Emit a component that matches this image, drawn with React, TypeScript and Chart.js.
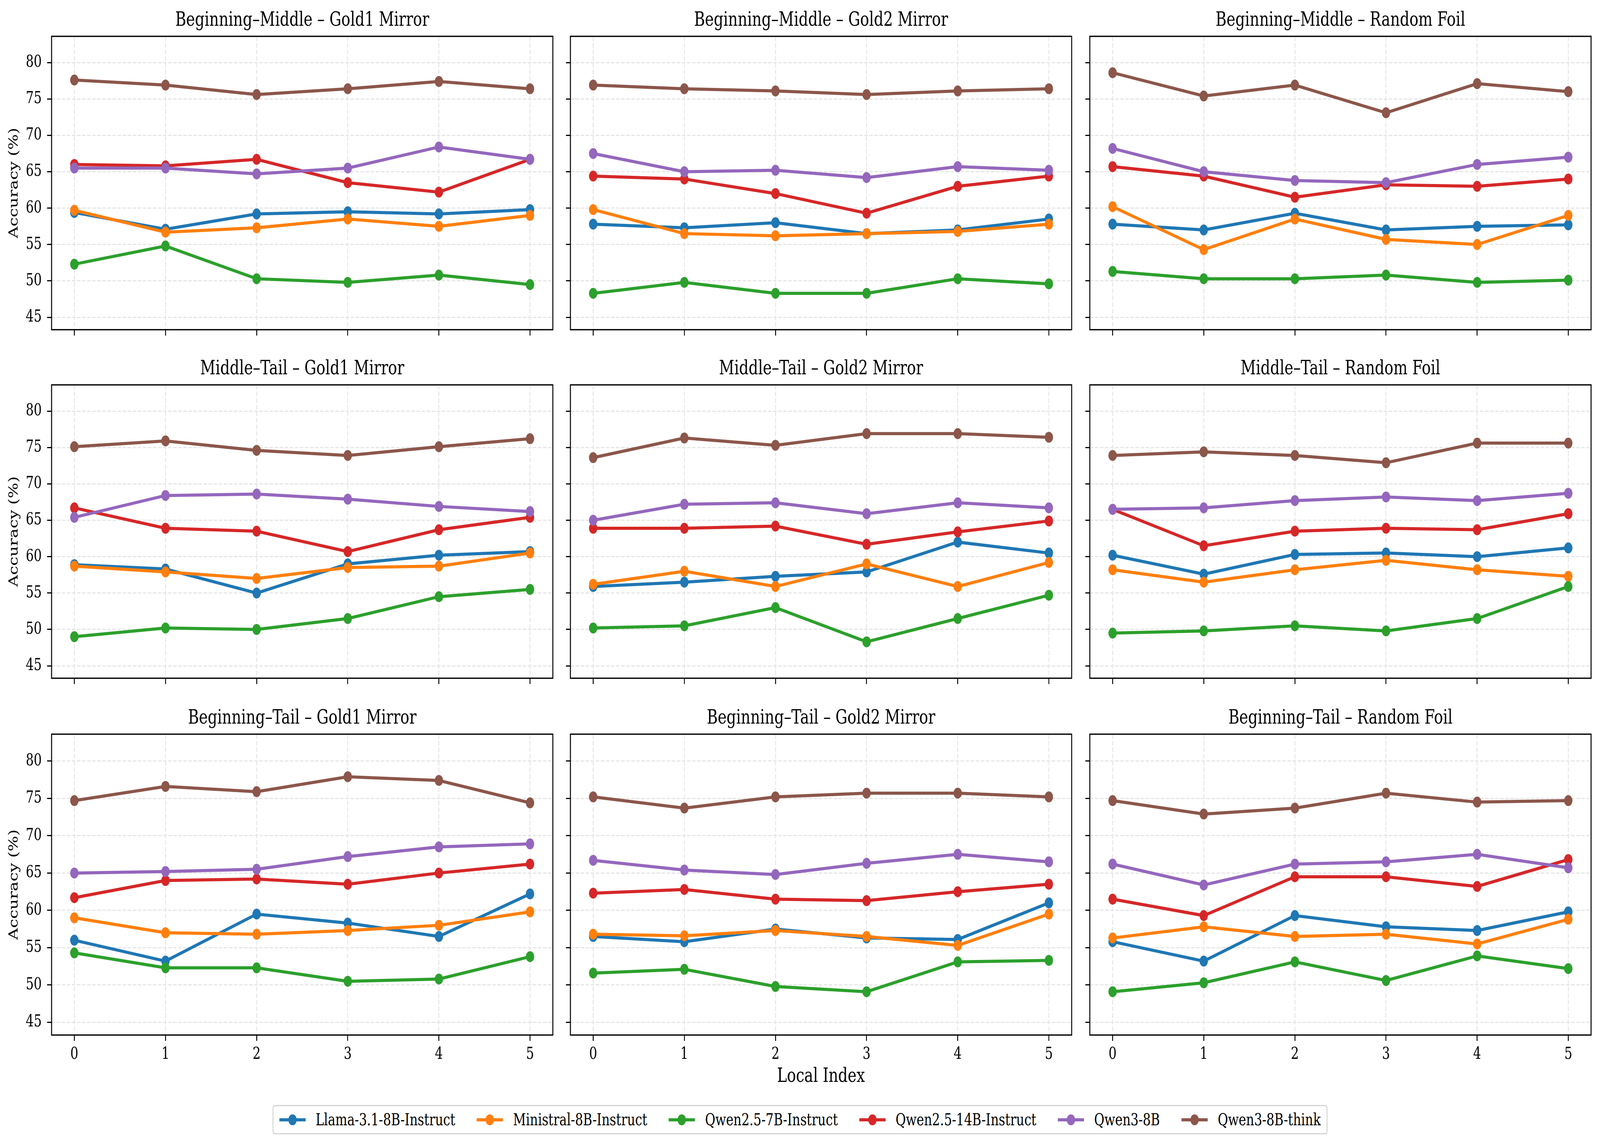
import React, { useEffect, useRef } from 'react';
import { Chart, registerables } from 'chart.js';

Chart.register(...registerables);

// ---------------- DATA ----------------
const MODELS = [
  'Llama-3.1-8B-Instruct',
  'Ministral-8B-Instruct',
  'Qwen2.5-7B-Instruct',
  'Qwen2.5-14B-Instruct',
  'Qwen3-8B',
  'Qwen3-8B-think',
];
const COLORS = ['#1f77b4', '#ff7f0e', '#2ca02c', '#d62728', '#9467bd', '#8c564b'];
const LOCAL_INDEX = [0, 1, 2, 3, 4, 5];
const Y_TICKS = [45, 50, 55, 60, 65, 70, 75, 80];
const ROW_NAMES = ['Beginning–Middle', 'Middle–Tail', 'Beginning–Tail'];
const COL_NAMES = ['Gold1 Mirror', 'Gold2 Mirror', 'Random Foil'];
const X_LABEL = 'Local Index';
const Y_LABEL = 'Accuracy (%)';

// each panel: one row per model (order of MODELS), one value per local index
const BM_GOLD1 = [
  [59.4, 57.1, 59.2, 59.5, 59.2, 59.8],
  [59.7, 56.7, 57.3, 58.5, 57.5, 59.0],
  [52.3, 54.8, 50.3, 49.8, 50.8, 49.5],
  [66.0, 65.8, 66.7, 63.5, 62.2, 66.7],
  [65.5, 65.5, 64.7, 65.5, 68.4, 66.7],
  [77.6, 76.9, 75.6, 76.4, 77.4, 76.4],
];
const BM_GOLD2 = [
  [57.8, 57.3, 58.0, 56.5, 57.0, 58.5],
  [59.8, 56.5, 56.2, 56.5, 56.8, 57.8],
  [48.3, 49.8, 48.3, 48.3, 50.3, 49.6],
  [64.4, 64.0, 62.0, 59.3, 63.0, 64.4],
  [67.5, 65.0, 65.2, 64.2, 65.7, 65.2],
  [76.9, 76.4, 76.1, 75.6, 76.1, 76.4],
];
const BM_RANDOM = [
  [57.8, 57.0, 59.3, 57.0, 57.5, 57.7],
  [60.2, 54.3, 58.5, 55.7, 55.0, 59.0],
  [51.3, 50.3, 50.3, 50.8, 49.8, 50.1],
  [65.7, 64.4, 61.5, 63.2, 63.0, 64.0],
  [68.2, 65.0, 63.8, 63.5, 66.0, 67.0],
  [78.6, 75.4, 76.9, 73.1, 77.1, 76.0],
];
const MT_GOLD1 = [
  [58.9, 58.3, 55.0, 59.0, 60.2, 60.7],
  [58.7, 57.9, 57.0, 58.5, 58.7, 60.5],
  [49.0, 50.2, 50.0, 51.5, 54.5, 55.5],
  [66.7, 63.9, 63.5, 60.7, 63.7, 65.4],
  [65.4, 68.4, 68.6, 67.9, 66.9, 66.2],
  [75.1, 75.9, 74.6, 73.9, 75.1, 76.2],
];
const MT_GOLD2 = [
  [55.9, 56.5, 57.3, 57.9, 62.0, 60.5],
  [56.2, 58.0, 55.9, 59.0, 55.9, 59.2],
  [50.2, 50.5, 53.0, 48.3, 51.5, 54.7],
  [63.9, 63.9, 64.2, 61.7, 63.4, 64.9],
  [65.0, 67.2, 67.4, 65.9, 67.4, 66.7],
  [73.6, 76.3, 75.3, 76.9, 76.9, 76.4],
];
const MT_RANDOM = [
  [60.2, 57.6, 60.3, 60.5, 60.0, 61.2],
  [58.2, 56.5, 58.2, 59.5, 58.2, 57.3],
  [49.5, 49.8, 50.5, 49.8, 51.5, 55.9],
  [66.5, 61.5, 63.5, 63.9, 63.7, 65.9],
  [66.5, 66.7, 67.7, 68.2, 67.7, 68.7],
  [73.9, 74.4, 73.9, 72.9, 75.6, 75.6],
];
const BT_GOLD1 = [
  [56.0, 53.2, 59.5, 58.3, 56.5, 62.2],
  [59.0, 57.0, 56.8, 57.3, 58.0, 59.8],
  [54.3, 52.3, 52.3, 50.5, 50.8, 53.8],
  [61.7, 64.0, 64.2, 63.5, 65.0, 66.2],
  [65.0, 65.2, 65.5, 67.2, 68.5, 68.9],
  [74.7, 76.6, 75.9, 77.9, 77.4, 74.4],
];
const BT_GOLD2 = [
  [56.5, 55.8, 57.5, 56.3, 56.1, 61.0],
  [56.8, 56.6, 57.3, 56.5, 55.3, 59.5],
  [51.6, 52.1, 49.8, 49.1, 53.1, 53.3],
  [62.3, 62.8, 61.5, 61.3, 62.5, 63.5],
  [66.7, 65.4, 64.8, 66.3, 67.5, 66.5],
  [75.2, 73.7, 75.2, 75.7, 75.7, 75.2],
];
const BT_RANDOM = [
  [55.8, 53.2, 59.3, 57.8, 57.3, 59.8],
  [56.3, 57.8, 56.5, 56.8, 55.5, 58.8],
  [49.1, 50.3, 53.1, 50.6, 53.9, 52.2],
  [61.5, 59.3, 64.5, 64.5, 63.2, 66.8],
  [66.2, 63.4, 66.2, 66.5, 67.5, 65.7],
  [74.7, 72.9, 73.7, 75.7, 74.5, 74.7],
];

const PANELS = [
  [BM_GOLD1, BM_GOLD2, BM_RANDOM],
  [MT_GOLD1, MT_GOLD2, MT_RANDOM],
  [BT_GOLD1, BT_GOLD2, BT_RANDOM],
];

// ---------------- LAYOUT / STYLE ----------------
const FONT = 'DejaVu Serif';
const W = 5369;
const H = 2933;
const PLOT_LEFTS = [173, 1914, 3657];
const PLOT_W = 1682;
const PLOT_TOPS = [93, 985, 1879];
const PLOT_H = 770;
const TITLE_H = 70;
const RIGHT_PAD = 24;

const ALL_VALUES = PANELS.flat(3) as number[];
const Y_MIN = Math.min(...ALL_VALUES) - 5;
const Y_MAX = Math.max(...ALL_VALUES) + 5;
const X_MIN = LOCAL_INDEX[0] - 0.25;
const X_MAX = LOCAL_INDEX[LOCAL_INDEX.length - 1] + 0.25;

const framePlugin = {
  id: 'frame',
  afterDatasetsDraw(chart: any) {
    const { ctx, chartArea } = chart;
    const { left, top, right, bottom } = chartArea;
    ctx.save();
    ctx.strokeStyle = '#000';
    ctx.lineWidth = 3.3;
    ctx.strokeRect(left, top, right - left, bottom - top);
    ctx.restore();
  },
};

function Panel({ row, col }: { row: number; col: number }) {
  const ref = useRef<HTMLCanvasElement | null>(null);
  const yw = col === 0 ? PLOT_LEFTS[0] : 24;
  const xh = row === 2 ? 140 : 24;
  const left = PLOT_LEFTS[col] - yw;
  const top = PLOT_TOPS[row] - TITLE_H;
  const width = yw + PLOT_W + RIGHT_PAD;
  const height = TITLE_H + PLOT_H + xh;

  useEffect(() => {
    const canvas = ref.current;
    if (!canvas) return;
    const panel = PANELS[row][col];
    const gridCommon = {
      color: '#e6e6e6',
      lineWidth: 3,
      drawTicks: true,
      tickLength: 15,
      tickColor: '#000',
      tickWidth: 3,
      tickBorderDash: [],
      borderDash: [12, 5],
    };
    const chart = new Chart(canvas, {
      type: 'line',
      data: {
        datasets: MODELS.map((m, i) => ({
          label: m,
          data: LOCAL_INDEX.map((x, j) => ({ x, y: panel[i][j] })),
          borderColor: COLORS[i],
          backgroundColor: COLORS[i],
          pointBackgroundColor: COLORS[i],
          pointBorderColor: COLORS[i],
          pointBorderWidth: 0,
          pointRadius: 14,
          pointHoverRadius: 14,
          borderWidth: 8,
          tension: 0,
          order: MODELS.length - i,
        })),
      },
      options: {
        animation: false,
        responsive: false,
        devicePixelRatio: 1,
        events: [],
        layout: { padding: { left: 0, right: RIGHT_PAD, top: 0, bottom: 0 } },
        plugins: {
          legend: { display: false },
          tooltip: { enabled: false },
          title: {
            display: true,
            text: `${ROW_NAMES[row]} – ${COL_NAMES[col]}`,
            fullSize: false,
            color: '#000',
            font: { family: FONT, size: 50, weight: 'normal' },
            padding: { top: 0, bottom: 10 },
          },
        },
        scales: {
          x: {
            type: 'linear',
            min: X_MIN,
            max: X_MAX,
            afterBuildTicks: (s: any) => {
              s.ticks = LOCAL_INDEX.map((v) => ({ value: v }));
            },
            afterFit: (s: any) => {
              s.height = xh;
            },
            grid: gridCommon,
            border: { display: false, dash: [12, 5] },
            ticks: {
              autoSkip: false,
              maxRotation: 0,
              color: '#000',
              padding: 10,
              font: { family: FONT, size: 42 },
              callback: (v: any) => (row === 2 ? String(v) : ''),
            },
            title: {
              display: row === 2 && col === 1,
              text: X_LABEL,
              color: '#000',
              font: { family: FONT, size: 50 },
              padding: { top: 0, bottom: 3 },
            },
          },
          y: {
            type: 'linear',
            min: Y_MIN,
            max: Y_MAX,
            afterBuildTicks: (s: any) => {
              s.ticks = Y_TICKS.map((v) => ({ value: v }));
            },
            afterFit: (s: any) => {
              s.width = yw;
            },
            grid: gridCommon,
            border: { display: false, dash: [12, 5] },
            ticks: {
              autoSkip: false,
              color: '#000',
              padding: 18,
              font: { family: FONT, size: 42 },
              callback: (v: any) => (col === 0 ? String(v) : ''),
            },
            title: {
              display: col === 0,
              text: Y_LABEL,
              color: '#000',
              font: { family: FONT, size: 42 },
              padding: { top: 23, bottom: 0 },
            },
          },
        },
      } as any,
      plugins: [framePlugin],
    });
    return () => chart.destroy();
  }, [row, col]);

  return (
    <canvas
      ref={ref}
      width={width}
      height={height}
      style={{ position: 'absolute', left, top, width, height }}
    />
  );
}

function Legend() {
  return (
    <div
      style={{
        position: 'absolute',
        left: W / 2,
        top: 2828,
        height: 75,
        transform: 'translateX(-50%)',
        boxSizing: 'border-box',
        border: '3px solid #d3d3d3',
        borderRadius: 8,
        background: '#fff',
        display: 'flex',
        alignItems: 'center',
        padding: '0 20px',
        gap: 72,
        whiteSpace: 'nowrap',
      }}
    >
      {MODELS.map((m, i) => (
        <div key={m} style={{ display: 'flex', alignItems: 'center' }}>
          <div style={{ position: 'relative', width: 88, height: 28 }}>
            <div
              style={{
                position: 'absolute',
                left: 0,
                top: 10,
                width: 88,
                height: 8,
                background: COLORS[i],
              }}
            />
            <div
              style={{
                position: 'absolute',
                left: 30,
                top: 0,
                width: 28,
                height: 28,
                borderRadius: '50%',
                background: COLORS[i],
              }}
            />
          </div>
          <span
            style={{
              marginLeft: 34,
              fontFamily: FONT,
              fontSize: 42,
              lineHeight: 1,
              color: '#000',
            }}
          >
            {m}
          </span>
        </div>
      ))}
    </div>
  );
}

export default function App() {
  const vw = typeof window !== 'undefined' ? window.innerWidth : W;
  const vh = typeof window !== 'undefined' ? window.innerHeight : H;
  const sx = vw / W;
  const sy = vh / H;
  const cells: React.ReactNode[] = [];
  for (let r = 0; r < 3; r++) {
    for (let c = 0; c < 3; c++) {
      cells.push(<Panel key={`${r}-${c}`} row={r} col={c} />);
    }
  }
  return (
    <div
      style={{
        position: 'fixed',
        left: 0,
        top: 0,
        width: vw,
        height: vh,
        background: '#fff',
        overflow: 'hidden',
      }}
    >
      <div
        style={{
          position: 'absolute',
          left: 0,
          top: 0,
          width: W,
          height: H,
          background: '#fff',
          transform: `scale(${sx}, ${sy})`,
          transformOrigin: '0 0',
        }}
      >
        {cells}
        <Legend />
      </div>
    </div>
  );
}
